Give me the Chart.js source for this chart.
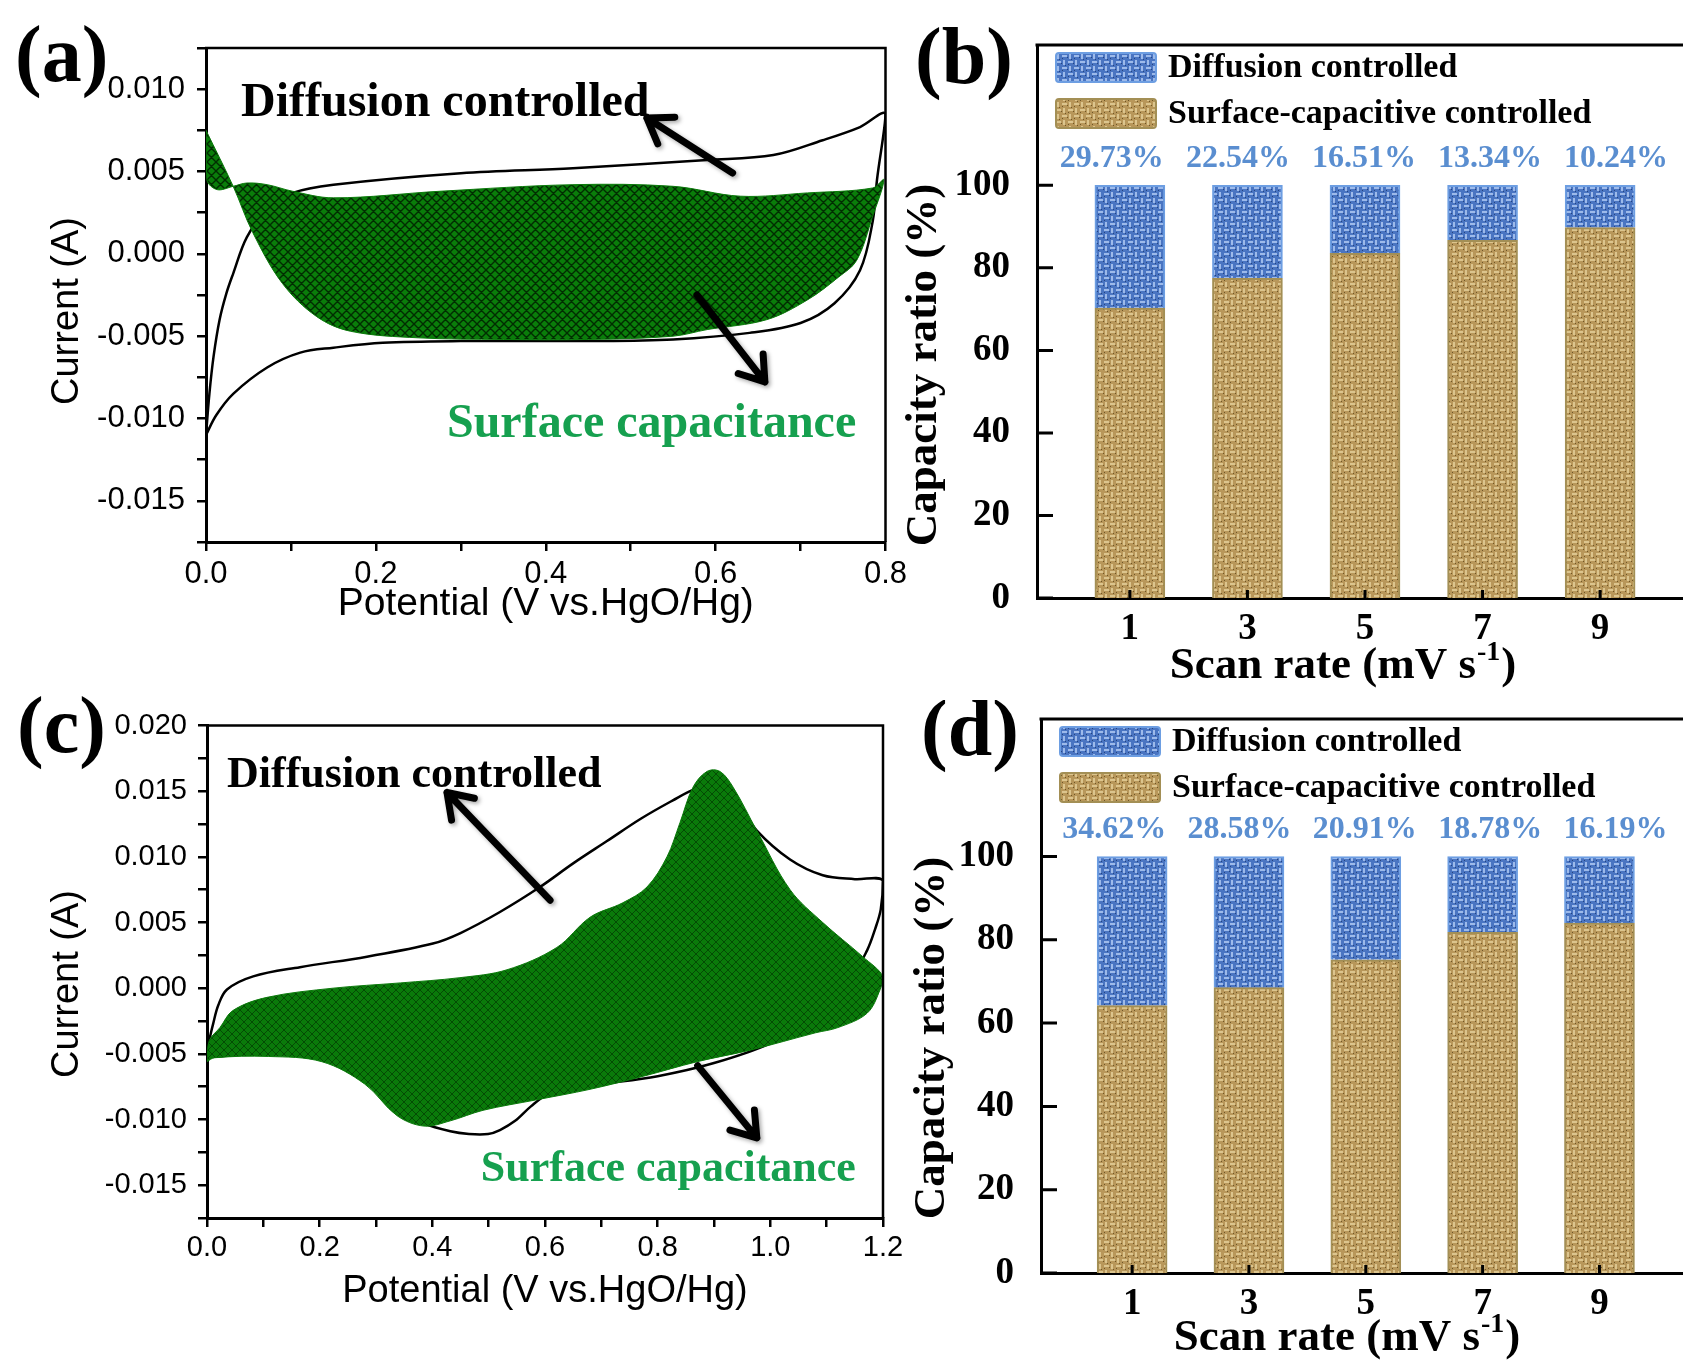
<!DOCTYPE html>
<html>
<head>
<meta charset="utf-8">
<script src="https://cdn.jsdelivr.net/npm/chart.js@4.4.0/dist/chart.umd.min.js"></script>
<style>
  body { margin: 0; background: #fff; width: 1683px; height: 1360px; overflow: hidden; position: relative; }
  canvas { position: absolute; }
</style>
</head>
<body>
<canvas id="chartA" width="930" height="640" style="left:0;top:0"></canvas>
<canvas id="chartB" width="783" height="700" style="left:900px;top:0"></canvas>
<canvas id="chartC" width="930" height="640" style="left:0;top:690px"></canvas>
<canvas id="chartD" width="783" height="660" style="left:900px;top:700px"></canvas>
<script>
// ---- panel (a): CV loop and capacitive region (V, A)
const aLoopX = [0, 0.004, 0.009, 0.016, 0.024, 0.032, 0.048, 0.072, 0.102, 0.15, 0.3, 0.432, 0.59, 0.668, 0.726, 0.77, 0.8,
                0.79, 0.785, 0.77, 0.74, 0.7, 0.64, 0.55, 0.45, 0.3, 0.208, 0.15, 0.111, 0.072, 0.032, 0.012, 0];
const aLoopY = [-0.011, -0.0085, -0.0062, -0.0040, -0.0024, -0.0012, 0.0010, 0.0027, 0.0037, 0.0042, 0.0049, 0.0052, 0.0057, 0.0060, 0.0069, 0.0077, 0.0085,
                0.0045, 0.002, -0.001, -0.003, -0.0042, -0.0048, -0.0052, -0.0053, -0.0053, -0.0054, -0.0057, -0.0060, -0.0069, -0.0085, -0.0098, -0.011];
const aFillX = [0, 0.032, 0.055, 0.09, 0.13, 0.17, 0.25, 0.35, 0.45, 0.55, 0.59, 0.66, 0.708, 0.745, 0.766, 0.785, 0.798,
                0.785, 0.708, 0.629, 0.55, 0.432, 0.2755, 0.15, 0.102, 0.072, 0.048, 0.032, 0.013, 0.001, 0];
const aFillY = [0.0075, 0.0041, 0.0013, -0.0018, -0.0038, -0.0047, -0.0051, -0.0052, -0.0052, -0.0050, -0.0046, -0.0040, -0.0028, -0.0014, -0.0004, 0.0023, 0.0045,
                0.0040, 0.0037, 0.0035, 0.0041, 0.0042, 0.0038, 0.0034, 0.0038, 0.0042, 0.0043, 0.0041, 0.0039, 0.0045, 0.0075];

// ---- panel (c)
const cLoopX = [0, 0.005, 0.011, 0.02, 0.0355, 0.082, 0.165, 0.284, 0.401, 0.45, 0.52, 0.591, 0.65, 0.71, 0.77, 0.827, 0.863, 0.9, 0.94, 0.976, 1.035, 1.093, 1.15, 1.2,
                1.196, 1.186, 1.172, 1.14, 1.08, 1.0, 0.9, 0.8, 0.7, 0.65, 0.604, 0.575, 0.547, 0.52, 0.499, 0.465, 0.432, 0.385, 0.35, 0.3, 0.2, 0.1, 0.04, 0];
const cLoopY = [-0.0052, -0.0038, -0.0027, -0.0013, -0.0001, 0.0009, 0.0016, 0.0024, 0.0034, 0.0042, 0.0058, 0.0077, 0.0095, 0.0112, 0.0129, 0.0143, 0.0151, 0.0155, 0.0142, 0.0120, 0.0098, 0.0086, 0.0083, 0.0082,
                0.0060, 0.0045, 0.0029, 0.0005, -0.0022, -0.0042, -0.0057, -0.0067, -0.0073, -0.0076, -0.0081, -0.0090, -0.0101, -0.0108, -0.0111, -0.0111, -0.0109, -0.0103, -0.0094, -0.0076, -0.0053, -0.0049, -0.0051, -0.0053];
const cFillX = [0, 0.004, 0.023, 0.046, 0.1065, 0.224, 0.343, 0.449, 0.5325, 0.621, 0.68, 0.738, 0.781, 0.8165, 0.8396, 0.8627, 0.8875, 0.9106, 0.934, 0.976, 1.035, 1.093, 1.164, 1.2,
                1.195, 1.172, 1.12, 1.08, 0.966, 0.87, 0.775, 0.68, 0.585, 0.49, 0.432, 0.385, 0.337, 0.28, 0.204, 0.109, 0.013, 0];
const cFillY = [-0.0055, -0.0040, -0.0030, -0.0017, -0.0007, 0.0000, 0.0004, 0.0008, 0.0014, 0.0031, 0.0054, 0.0065, 0.0077, 0.0100, 0.0126, 0.0153, 0.0165, 0.0165, 0.0153, 0.0120, 0.0075, 0.0050, 0.0024, 0.0009,
                -0.0001, -0.0019, -0.0030, -0.0034, -0.0047, -0.0056, -0.0067, -0.0077, -0.0085, -0.0093, -0.0101, -0.0105, -0.0097, -0.0073, -0.0056, -0.0052, -0.0053, -0.0056];

// ---- panels (b) and (d): capacity ratio (%)
const scanRates = [1, 3, 5, 7, 9];
const ratioTicks = [0, 20, 40, 60, 80, 100];
const bDiffusion = [29.73, 22.54, 16.51, 13.34, 10.24];
const bSurface = [70.27, 77.46, 83.49, 86.66, 89.76];
const bLabels = ['29.73%', '22.54%', '16.51%', '13.34%', '10.24%'];
const dDiffusion = [35.8, 31.5, 24.8, 18.2, 16.0];
const dSurface = [64.2, 68.5, 75.2, 81.8, 84.0];
const dLabels = ['34.62%', '28.58%', '20.91%', '18.78%', '16.19%'];

const SANS = 'Liberation Sans';
const SERIF = 'Liberation Serif';
const pts = (xs, ys) => xs.map((x, i) => ({x: x, y: ys[i]}));

function crossHatch(base, line, gap, lw) {
  const c = document.createElement('canvas');
  c.width = c.height = gap;
  const g = c.getContext('2d');
  g.fillStyle = base;
  g.fillRect(0, 0, gap, gap);
  g.strokeStyle = line;
  g.lineWidth = lw;
  g.beginPath();
  for (const o of [-gap, 0, gap]) {
    g.moveTo(o, 0); g.lineTo(o + gap, gap);
    g.moveTo(o + gap, 0); g.lineTo(o, gap);
  }
  g.stroke();
  return g.createPattern(c, 'repeat');
}

// burlap-like texture for the bars
function weave(base, light, dark) {
  const n = 12, c = document.createElement('canvas');
  c.width = c.height = n;
  const g = c.getContext('2d');
  g.fillStyle = base;
  g.fillRect(0, 0, n, n);
  g.fillStyle = light;
  g.fillRect(0, 1, 5, 2); g.fillRect(6, 7, 5, 2);
  g.fillRect(7, 0, 2, 5); g.fillRect(1, 6, 2, 5);
  g.fillStyle = dark;
  g.fillRect(5, 3, 1, 1); g.fillRect(11, 9, 1, 1); g.fillRect(3, 11, 1, 1); g.fillRect(9, 5, 1, 1);
  g.fillRect(0, 4, 1, 1); g.fillRect(6, 10, 1, 1);
  return g.createPattern(c, 'repeat');
}

const greenA = crossHatch('#0a7d0a', 'rgba(0,30,0,0.85)', 9, 1.4);
const greenC = crossHatch('#0a7a0a', 'rgba(0,45,0,0.6)', 8, 1);
const tanPat = weave('#b8975a', '#dcc58e', '#6e5628');
const bluePat = weave('#4a75c2', '#9dbaea', '#26447f');

function drawArrow(ctx, x1, y1, x2, y2, w) {
  const ang = Math.atan2(y2 - y1, x2 - x1), h = 28;
  ctx.save();
  ctx.shadowColor = 'rgba(0,0,0,0.35)';
  ctx.shadowBlur = 4;
  ctx.shadowOffsetX = 2;
  ctx.shadowOffsetY = 2;
  ctx.strokeStyle = '#000';
  ctx.lineWidth = w;
  ctx.lineCap = 'round';
  ctx.lineJoin = 'round';
  ctx.beginPath();
  ctx.moveTo(x1, y1);
  ctx.lineTo(x2, y2);
  ctx.moveTo(x2 - h * Math.cos(ang - 0.6), y2 - h * Math.sin(ang - 0.6));
  ctx.lineTo(x2, y2);
  ctx.lineTo(x2 - h * Math.cos(ang + 0.6), y2 - h * Math.sin(ang + 0.6));
  ctx.stroke();
  ctx.restore();
}

// frame, panel letter, y title and the annotations of the CV panels
const cvDecor = {
  id: 'cvDecor',
  afterDraw(chart, args, o) {
    const {ctx, chartArea: a, scales: {x, y}} = chart;
    ctx.save();
    ctx.strokeStyle = '#000';
    ctx.lineWidth = 2.5;
    ctx.beginPath();
    ctx.moveTo(a.left - 1, a.top);
    ctx.lineTo(a.right, a.top);
    ctx.lineTo(a.right, a.bottom);
    ctx.stroke();

    ctx.fillStyle = '#000';
    ctx.textAlign = 'left';
    ctx.textBaseline = 'alphabetic';
    ctx.font = 'bold 80px "' + SERIF + '"';
    ctx.fillText(o.letter, o.letterX, o.letterY);

    ctx.save();
    ctx.translate(o.yTitleX, o.yTitleY);
    ctx.rotate(-Math.PI / 2);
    ctx.textAlign = 'center';
    ctx.textBaseline = 'middle';
    ctx.font = '38px "' + SANS + '"';
    ctx.fillText('Current (A)', 0, 0);
    ctx.restore();

    o.notes.forEach(n => {
      ctx.font = 'bold ' + n.size + 'px "' + SERIF + '"';
      ctx.fillStyle = n.color;
      ctx.fillText(n.text, x.getPixelForValue(n.x), y.getPixelForValue(n.y));
    });
    o.arrows.forEach(r => drawArrow(ctx, x.getPixelForValue(r[0]), y.getPixelForValue(r[1]),
                                         x.getPixelForValue(r[2]), y.getPixelForValue(r[3]), 7));
    ctx.restore();
  }
};

function yLabel(step, lo, hi) {
  return v => {
    const k = Math.round(v / step);
    return (k % 2 === 0 && v > lo - 1e-9 && v < hi + 1e-9) ? (k * step).toFixed(3) : '';
  };
}

function cvChart(id, loop, fill, pat, opt) {
  return new Chart(document.getElementById(id), {
    type: 'line',
    data: {
      datasets: [
        { data: fill, backgroundColor: pat, borderColor: '#0b7a0b', borderWidth: 1, pointRadius: 0, fill: 'shape', tension: 0.35 },
        { data: loop, borderColor: '#000', borderWidth: 2.5, pointRadius: 0, fill: false, tension: 0.35 }
      ]
    },
    options: {
      responsive: false,
      animation: false,
      devicePixelRatio: 1,
      layout: { padding: opt.padding },
      plugins: { legend: { display: false }, tooltip: { enabled: false }, cvDecor: opt.decor },
      scales: {
        x: {
          type: 'linear', min: 0, max: opt.xMax,
          ticks: {
            stepSize: 0.1, autoSkip: false, maxRotation: 0, padding: opt.xPad, color: '#000',
            font: { family: SANS, size: opt.tickSize },
            callback: v => Math.round(v * 10) % 2 === 0 ? v.toFixed(1) : ''
          },
          grid: { drawOnChartArea: false, color: '#000', lineWidth: 2.5, tickLength: 9 },
          border: { color: '#000', width: 3 },
          title: {
            display: true, text: 'Potential (V vs.HgO/Hg)', color: '#000',
            font: { family: SANS, size: opt.titleSize }, padding: { top: 0, bottom: opt.titlePad }
          },
          afterFit: s => { s.height = opt.xH; s.paddingLeft = 0; s.paddingRight = 0; }
        },
        y: {
          type: 'linear', min: -0.0175, max: opt.yMax,
          ticks: {
            stepSize: 0.0025, autoSkip: false, padding: opt.yPad, color: '#000',
            font: { family: SANS, size: opt.tickSize },
            callback: yLabel(0.0025, -0.015, opt.yTop)
          },
          grid: { drawOnChartArea: false, color: '#000', lineWidth: 2.5, tickLength: 9 },
          border: { color: '#000', width: 3 },
          afterFit: s => { s.width = opt.yW; s.paddingTop = 0; s.paddingBottom = 0; }
        }
      }
    },
    plugins: [cvDecor]
  });
}

cvChart('chartA', pts(aLoopX, aLoopY), pts(aFillX, aFillY), greenA, {
  padding: { left: 0, top: 48, right: 44.5, bottom: 0 },
  xMax: 0.8, yMax: 0.0125, yTop: 0.010, xH: 98, yW: 206,
  tickSize: 31, xPad: 5, yPad: 12, titleSize: 39, titlePad: 12,
  decor: {
    letter: '(a)', letterX: 15, letterY: 81, yTitleX: 68, yTitleY: 311,
    notes: [
      { text: 'Diffusion controlled', x: 0.0412, y: 0.00837, size: 48, color: '#000' },
      { text: 'Surface capacitance', x: 0.2837, y: -0.0111, size: 48, color: '#16a04f' }
    ],
    arrows: [[0.620, 0.00491, 0.519, 0.00825], [0.578, -0.0025, 0.658, -0.00778]]
  }
});

cvChart('chartC', pts(cLoopX, cLoopY), pts(cFillX, cFillY), greenC, {
  padding: { left: 0, top: 35.5, right: 47, bottom: 0 },
  xMax: 1.2, yMax: 0.020, yTop: 0.020, xH: 112, yW: 207,
  tickSize: 29, xPad: 4, yPad: 11, titleSize: 38, titlePad: 16,
  decor: {
    letter: '(c)', letterX: 17, letterY: 62, yTitleX: 68, yTitleY: 294,
    notes: [
      { text: 'Diffusion controlled', x: 0.0355, y: 0.0153, size: 44, color: '#000' },
      { text: 'Surface capacitance', x: 0.486, y: -0.0147, size: 44, color: '#16a04f' }
    ],
    arrows: [[0.609, 0.0067, 0.426, 0.0149], [0.871, -0.0059, 0.976, -0.0114]]
  }
});

// inward ticks, legend, percentages, titles of the bar panels
const barDecor = {
  id: 'barDecor',
  afterDraw(chart, args, o) {
    const {ctx, chartArea: a, scales: {x, y}} = chart;
    ctx.save();
    ctx.strokeStyle = '#000';
    ctx.lineWidth = 3;
    ctx.beginPath();
    ctx.moveTo(a.left - 1.5, a.top);
    ctx.lineTo(a.right, a.top);
    y.ticks.forEach(t => {
      const py = y.getPixelForValue(t.value);
      ctx.moveTo(a.left, py); ctx.lineTo(a.left + 16, py);
    });
    x.ticks.forEach(t => {
      const px = x.getPixelForValue(t.value);
      ctx.moveTo(px, a.bottom); ctx.lineTo(px, a.bottom - 8);
    });
    ctx.stroke();

    // percentages of the diffusion part (the text row is a little wider than the bar row)
    ctx.fillStyle = '#5a8ed0';
    ctx.textAlign = 'center';
    ctx.textBaseline = 'alphabetic';
    ctx.font = 'bold 32px "' + SERIF + '"';
    o.labels.forEach((t, i) => ctx.fillText(t, x.getPixelForValue(scanRates[i]) - 18 + i * 8.5, y.getPixelForValue(100) - 18));

    // legend
    const items = [['Diffusion controlled', bluePat, '#6d9ee2'], ['Surface-capacitive controlled', tanPat, '#a38f55']];
    ctx.textAlign = 'left';
    ctx.font = 'bold 34px "' + SERIF + '"';
    items.forEach((it, i) => {
      const top = a.top + 8 + i * 46;
      ctx.fillStyle = it[1];
      ctx.strokeStyle = it[2];
      ctx.lineWidth = 2;
      ctx.beginPath();
      ctx.roundRect(a.left + 19, top, 100, 29, 3);
      ctx.fill();
      ctx.stroke();
      ctx.fillStyle = '#000';
      ctx.fillText(it[0], a.left + 131, top + 24);
    });

    // x title with superscript
    const main = 'Scan rate (mV s', sup = '-1', end = ')';
    const fBig = 'bold 45px "' + SERIF + '"', fSup = 'bold 28px "' + SERIF + '"';
    ctx.font = fBig;
    const w1 = ctx.measureText(main).width, w3 = ctx.measureText(end).width;
    ctx.font = fSup;
    const w2 = ctx.measureText(sup).width;
    let sx = o.xTitleX - (w1 + w2 + w3) / 2;
    ctx.font = fBig;
    ctx.fillText(main, sx, o.xTitleY);
    ctx.font = fSup;
    ctx.fillText(sup, sx + w1 + 1, o.xTitleY - 18);
    ctx.font = fBig;
    ctx.fillText(end, sx + w1 + w2 + 2, o.xTitleY);

    // y title
    ctx.save();
    ctx.translate(o.yTitleX, o.yTitleY);
    ctx.rotate(-Math.PI / 2);
    ctx.textAlign = 'center';
    ctx.textBaseline = 'middle';
    ctx.font = 'bold 45px "' + SERIF + '"';
    ctx.fillText('Capacity ratio (%)', 0, 0);
    ctx.restore();

    ctx.font = 'bold 80px "' + SERIF + '"';
    ctx.fillText(o.letter, o.letterX, o.letterY);
    ctx.restore();
  }
};

function barChart(id, diffusion, surface, opt) {
  const tickFont = { family: SERIF, size: 37, weight: 'bold' };
  return new Chart(document.getElementById(id), {
    type: 'bar',
    data: {
      datasets: [
        { label: 'Surface-capacitive controlled', data: pts(scanRates, surface), backgroundColor: tanPat,
          borderColor: '#a38f55', borderWidth: 2, barThickness: 70 },
        { label: 'Diffusion controlled', data: pts(scanRates, diffusion), backgroundColor: bluePat,
          borderColor: '#6d9ee2', borderWidth: 2, barThickness: 70 }
      ]
    },
    options: {
      responsive: false,
      animation: false,
      devicePixelRatio: 1,
      layout: { padding: { left: 0, top: opt.top, right: 0, bottom: 0 } },
      plugins: { legend: { display: false }, tooltip: { enabled: false }, barDecor: opt.decor },
      scales: {
        x: {
          type: 'linear', stacked: true, offset: false, min: opt.xMin, max: opt.xMax,
          afterBuildTicks: s => { s.ticks = scanRates.map(v => ({ value: v })); },
          ticks: { autoSkip: false, maxRotation: 0, padding: 9, color: '#000', font: tickFont, callback: v => String(v) },
          grid: { display: false, drawTicks: false, offset: false },
          border: { color: '#000', width: 3 },
          afterFit: s => { s.height = opt.xH; s.paddingLeft = 0; s.paddingRight = 0; }
        },
        y: {
          stacked: true, min: 0, max: opt.yMax,
          afterBuildTicks: s => { s.ticks = ratioTicks.map(v => ({ value: v })); },
          ticks: { autoSkip: false, padding: 27, color: '#000', font: tickFont },
          grid: { display: false, drawTicks: false },
          border: { color: '#000', width: 3 },
          afterFit: s => { s.width = opt.yW; s.paddingTop = 0; s.paddingBottom = 0; }
        }
      }
    },
    plugins: [barDecor]
  });
}

barChart('chartB', bDiffusion, bSurface, {
  top: 45, xMin: -0.58, xMax: 10.41, yMax: 134, xH: 102, yW: 137,
  decor: { labels: bLabels, letter: '(b)', letterX: 15, letterY: 83, xTitleX: 442, xTitleY: 678, yTitleX: 24, yTitleY: 365 }
});

barChart('chartD', dDiffusion, dSurface, {
  top: 19, xMin: -0.56, xMax: 10.43, yMax: 133, xH: 87, yW: 141,
  decor: { labels: dLabels, letter: '(d)', letterX: 21, letterY: 55, xTitleX: 446, xTitleY: 650, yTitleX: 32, yTitleY: 338 }
});
</script>
</body>
</html>
